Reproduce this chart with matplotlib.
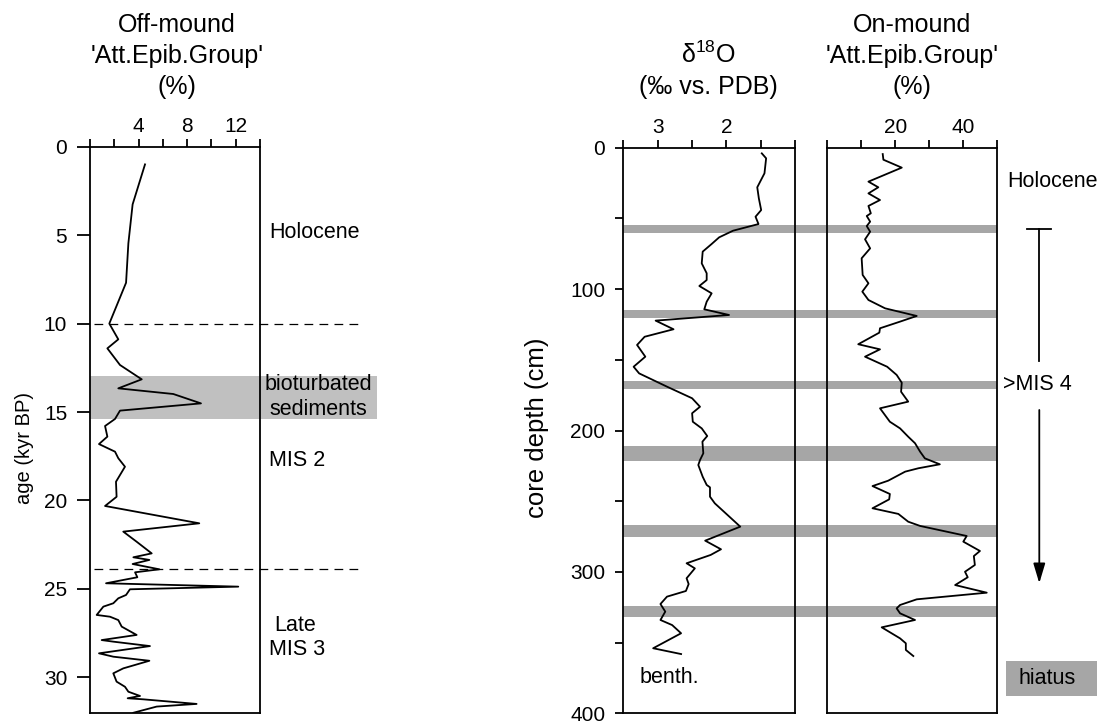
import matplotlib
matplotlib.use("Agg")
import matplotlib.pyplot as plt
from matplotlib.patches import Rectangle
from matplotlib.transforms import blended_transform_factory

plt.rcParams['font.family'] = ['Liberation Sans', 'DejaVu Sans']
plt.rcParams['mathtext.fontset'] = 'custom'
plt.rcParams['mathtext.rm'] = 'Liberation Sans'
plt.rcParams['mathtext.it'] = 'Liberation Sans:italic'

# ---------------- data ----------------
# Off-mound 'Att.Epib.Group' (%) versus age (kyr BP)
off_age = [1.0, 3.26, 5.46, 7.69, 10.0, 10.89, 11.4, 12.34, 13.15, 13.66, 13.98,
           14.51, 14.92, 15.39, 15.79, 16.39, 16.81, 17.24, 17.61, 18.09, 18.94,
           19.79, 20.31, 21.29, 21.76, 22.33, 22.99, 23.21, 23.36, 23.59, 23.89,
           24.06, 24.34, 24.68, 24.87, 25.02, 25.34, 25.53, 25.81, 26.0, 26.47,
           26.57, 26.76, 27.13, 27.6, 27.89, 27.98, 28.23, 28.64, 28.83, 29.06,
           29.49, 29.77, 30.24, 30.53, 30.81, 31.05, 31.18, 31.24, 31.5, 31.65, 32.0]
off_pct = [4.53, 3.51, 3.16, 2.97, 1.59, 2.33, 1.43, 2.47, 4.26, 2.33, 6.86,
           9.14, 2.47, 2.06, 1.24, 1.43, 0.74, 2.06, 2.33, 2.88, 2.14,
           2.19, 1.24, 9.0, 2.74, 3.84, 5.08, 3.57, 4.89, 3.51, 5.71,
           3.71, 3.90, 1.32, 12.21, 3.29, 2.97, 2.33, 1.92, 1.10, 0.55,
           1.65, 2.33, 2.61, 3.84, 0.96, 1.92, 4.94, 0.74, 1.92, 4.89,
           2.74, 1.92, 2.19, 2.88, 3.16, 4.12, 3.10, 4.39, 8.78, 5.49, 3.57]

# benthic d18O (permil vs. PDB) versus core depth (cm)
d18o_depth = [4.0, 7.5, 18.1, 28.0, 35.8, 44.1, 48.8, 54.0, 58.7, 63.4, 68.1,
              73.5, 81.8, 88.8, 93.6, 97.8, 103.0, 108.9, 114.3, 118.3, 122.3,
              128.4, 133.7, 139.5, 147.8, 154.9, 159.6, 169.0, 177.2, 183.2,
              187.8, 193.8, 198.5, 203.9, 207.9, 216.1, 220.9, 224.4, 232.7,
              238.5, 240.2, 246.8, 251.5, 268.0, 277.9, 284.0, 288.0, 293.9,
              297.5, 304.5, 308.6, 313.5, 317.5, 322.7, 328.1, 334.0, 337.6,
              343.4, 354.0, 358.1]
d18o_val = [1.487, 1.424, 1.448, 1.553, 1.53, 1.496, 1.578, 1.535, 1.905, 2.107, 2.216,
            2.346, 2.36, 2.288, 2.288, 2.395, 2.216, 2.288, 2.323, 1.963, 3.03,
            2.77, 3.19, 3.30, 3.18, 3.35, 3.27, 2.865, 2.50, 2.385,
            2.50, 2.49, 2.36, 2.28, 2.35, 2.337, 2.385, 2.41, 2.346,
            2.288, 2.24, 2.24, 2.17, 1.80, 2.31, 2.08, 2.23, 2.58,
            2.46, 2.58, 2.55, 2.59, 2.865, 2.96, 2.89, 2.96, 2.79,
            2.66, 3.066, 2.66]

# On-mound 'Att.Epib.Group' (%) versus core depth (cm)
on_depth = [4.5, 8.5, 14.1, 24.0, 28.0, 32.3, 37.0, 41.2, 46.4, 48.3, 52.3, 55.4,
            59.4, 64.8, 71.2, 78.2, 90.0, 95.9, 101.8, 107.7, 113.6, 119.0, 123.0,
            127.7, 130.8, 139.0, 142.6, 147.8, 154.9, 160.7, 166.2, 172.6, 179.6,
            184.3, 193.8, 198.5, 204.4, 209.0, 215.0, 219.7, 223.9, 226.7, 229.1,
            235.5, 239.3, 244.9, 248.7, 255.0, 259.0, 264.5, 267.5, 274.6, 278.6,
            285.2, 288.8, 295.1, 299.9, 303.8, 309.3, 314.7, 319.4, 323.4, 325.8,
            329.3, 334.0, 339.2, 347.0, 350.5, 355.2, 359.5]
on_pct = [16.3, 16.5, 21.9, 12.1, 15.0, 12.1, 15.5, 12.1, 12.8, 11.6, 12.6, 11.6,
          12.6, 11.1, 12.6, 10.1, 10.4, 12.1, 10.3, 12.1, 17.0, 26.3, 21.4,
          15.5, 15.3, 9.1, 15.5, 11.1, 17.6, 20.4, 21.9, 21.7, 23.8,
          15.5, 18.4, 21.4, 23.8, 25.8, 27.3, 28.7, 33.1, 26.8, 22.9,
          17.9, 13.3, 18.4, 18.2, 13.3, 20.9, 23.8, 27.3, 41.0, 40.0,
          44.9, 43.1, 43.4, 40.5, 41.3, 37.6, 46.9, 26.3, 21.4, 20.4,
          21.4, 25.8, 16.0, 21.4, 23.1, 23.1, 25.3]

# hiatus intervals (core depth, cm)
hiatus_top = [54.5, 114.5, 165.0, 211.0, 266.5, 324.0]
hiatus_bot = [60.0, 120.5, 171.0, 221.5, 275.0, 332.0]

# bioturbated interval and stage boundaries (kyr BP)
biot_top, biot_bot = 12.95, 15.41
stage_bounds = [10.0, 23.89]

# tick values and labels
off_xticks = [0, 2, 4, 6, 8, 10, 12, 14]
off_xlabels = ['', '', '4', '', '8', '', '12', '']
age_ticks = [0, 5, 10, 15, 20, 25, 30]
d18o_xticks = [3.5, 3.0, 2.5, 2.0, 1.5, 1.0]
d18o_xlabels = ['', '3', '', '2', '', '']
depth_ticks = [0, 50, 100, 150, 200, 250, 300, 350, 400]
depth_labels = ['0', '', '100', '', '200', '', '300', '', '400']
on_xticks = [0, 10, 20, 30, 40, 50]
on_xlabels = ['', '', '20', '', '40', '']

# ---------------- figure ----------------
W, H = 1101, 723
fig = plt.figure(figsize=(W / 100, H / 100), dpi=100)


def box(x0, y0, x1, y1):
    return [x0 / W, 1 - y1 / H, (x1 - x0) / W, (y1 - y0) / H]


def ftext(x, y, s, **kw):
    fig.text(x / W, 1 - y / H, s, **kw)


LW = 1.3
TICK_FS = 15
ANN_FS = 15.5
TITLE_FS = 18
BAND = '#a6a6a6'

ax1 = fig.add_axes(box(90, 146.7, 260, 713.3))
ax2 = fig.add_axes(box(623.3, 147.7, 795.3, 713.3))
ax3 = fig.add_axes(box(827.3, 147.7, 997.3, 713.3))

for ax in (ax1, ax2, ax3):
    ax.set_facecolor('none')
    for sp in ax.spines.values():
        sp.set_linewidth(LW)
        sp.set_zorder(5)
    ax.xaxis.tick_top()
    ax.tick_params(axis='x', direction='out', length=6, width=LW, pad=2,
                   labelsize=TICK_FS)

# ---- left panel: off-mound ----
ax1.plot(off_pct, off_age, color='k', lw=LW, zorder=3)
ax1.set_xlim(0, 14)
ax1.set_ylim(32.03, 0)
ax1.set_xticks(off_xticks)
ax1.set_xticklabels(off_xlabels)
ax1.set_yticks(age_ticks)
ax1.tick_params(axis='y', direction='out', length=9.4, width=LW, pad=7,
                labelsize=TICK_FS)
ax1.axhspan(biot_top, biot_bot, xmin=0, xmax=23.6 / 14, color='#c0c0c0',
            lw=0, clip_on=False, zorder=1)
for yb in stage_bounds:
    ax1.plot([0.3, 22.5], [yb, yb], color='k', lw=0.9, dashes=(7, 5),
             clip_on=False, zorder=2)
ax1.text(14.74, 4.86, 'Holocene', fontsize=ANN_FS, ha='left', va='center')
ax1.text(18.78, 13.47, 'bioturbated', fontsize=ANN_FS, ha='center', va='center')
ax1.text(18.78, 14.88, 'sediments', fontsize=ANN_FS, ha='center', va='center')
ax1.text(14.74, 17.75, 'MIS 2', fontsize=ANN_FS, ha='left', va='center')
ax1.text(16.9, 27.04, 'Late', fontsize=ANN_FS, ha='center', va='center')
ax1.text(14.74, 28.45, 'MIS 3', fontsize=ANN_FS, ha='left', va='center')
ftext(24, 448, 'age (kyr BP)', rotation=90, fontsize=14.5, ha='center', va='center')

# ---- middle panel: benthic d18O ----
ax2.plot(d18o_val, d18o_depth, color='k', lw=LW, zorder=3)
ax2.set_xlim(3.5, 1.0)
ax2.set_ylim(400, 0)
ax2.set_xticks(d18o_xticks)
ax2.set_xticklabels(d18o_xlabels)
ax2.set_yticks(depth_ticks)
ax2.set_yticklabels(depth_labels)
ax2.tick_params(axis='y', direction='out', length=6, width=LW, pad=7,
                labelsize=TICK_FS)
ax2.text(2.83, 375, 'benth.', fontsize=ANN_FS, ha='center', va='center')
ftext(537, 428, 'core depth (cm)', rotation=90, fontsize=18.5,
      ha='center', va='center')

# ---- right panel: on-mound ----
ax3.plot(on_pct, on_depth, color='k', lw=LW, zorder=3)
ax3.set_xlim(0, 50)
ax3.set_ylim(400, 0)
ax3.set_xticks(on_xticks)
ax3.set_xticklabels(on_xlabels)
ax3.tick_params(axis='y', left=False, labelleft=False)

# hiatus bands spanning both depth panels
trans = blended_transform_factory(fig.transFigure, ax2.transData)
x_left = 623.3 / W
x_right = 997.3 / W
for t, b in zip(hiatus_top, hiatus_bot):
    fig.add_artist(Rectangle((x_left, t), x_right - x_left, b - t,
                             transform=trans, color=BAND, lw=0, zorder=-1))

# stage annotations to the right
ax3.text(52.8, 24, 'Holocene', fontsize=ANN_FS, ha='left', va='center')
ax3.plot([62.35, 62.35], [57.7, 150.6], color='k', lw=LW, clip_on=False)
ax3.plot([58.8, 65.8], [57.7, 57.7], color='k', lw=LW, clip_on=False)
ax3.text(51.6, 167.5, '>MIS 4', fontsize=ANN_FS, ha='left', va='center')
ax3.annotate('', xy=(62.35, 308), xytext=(62.35, 185.5),
             arrowprops=dict(arrowstyle='-|>,head_length=0.6,head_width=0.18',
                             lw=LW, color='k', shrinkA=0, shrinkB=0,
                             mutation_scale=20),
             annotation_clip=False)
ax3.add_patch(Rectangle((52.6, 362.8), 26.6, 25.0, color=BAND, lw=0,
                        clip_on=False))
ax3.text(56.2, 375.3, 'hiatus', fontsize=ANN_FS, ha='left', va='center')

# ---- column headings ----
for y, s in ((31.7, 'Off-mound'), (63.0, "'Att.Epib.Group'"), (94.0, '(%)')):
    ftext(177, y, s, fontsize=TITLE_FS, ha='center', va='baseline')
for y, s in ((31.7, 'On-mound'), (63.0, "'Att.Epib.Group'"), (94.0, '(%)')):
    ftext(912, y, s, fontsize=TITLE_FS, ha='center', va='baseline')
ftext(708, 63.0, r'δ$^{\mathrm{18}}$O', fontsize=TITLE_FS, ha='center', va='baseline')
ftext(708, 94.0, '(‰ vs. PDB)', fontsize=TITLE_FS, ha='center', va='baseline')

fig.savefig('out.png', dpi=100)
